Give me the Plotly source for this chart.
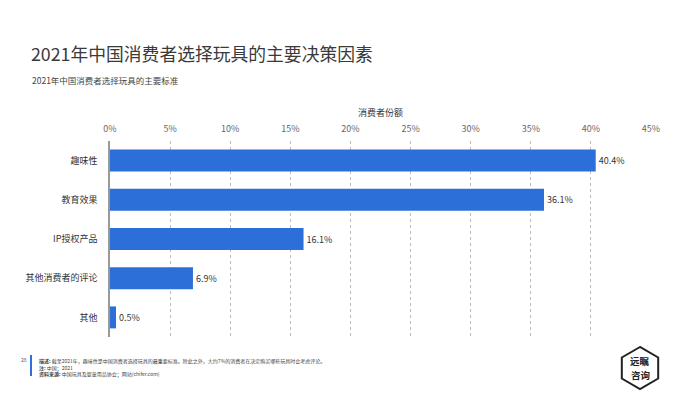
import plotly.graph_objects as go
import math

categories = ["趣味性", "教育效果", "IP授权产品", "其他消费者的评论", "其他"]
values = [40.4, 36.1, 16.1, 6.9, 0.5]
labels = ["40.4%", "36.1%", "16.1%", "6.9%", "0.5%"]
tick_vals = [0, 5, 10, 15, 20, 25, 30, 35, 40, 45]
tick_text = ["0%", "5%", "10%", "15%", "20%", "25%", "30%", "35%", "40%", "45%"]

FONT = "Noto Sans CJK SC, Noto Sans, sans-serif"

W, H = 700, 393
L, R, T, B = 110, 49, 141, 56
pw = W - L - R
ph = H - T - B
def px(xp):
    return (xp - L) / pw
def py(yp):
    return (H - B - yp) / ph

fig = go.Figure()
fig.add_trace(go.Bar(
    x=values, y=categories, orientation="h",
    marker=dict(color="#2C6FD9", line=dict(width=0)),
    text=labels, textposition="outside", cliponaxis=False,
    textfont=dict(size=9, color="#333333", family=FONT),
    width=0.56,
))

fig.update_layout(
    width=W, height=H,
    margin=dict(l=L, r=R, t=T, b=B),
    paper_bgcolor="white", plot_bgcolor="white",
    showlegend=False,
    font=dict(family=FONT, color="#333333"),
    xaxis=dict(
        side="top", range=[0, 45], tickvals=tick_vals, ticktext=tick_text,
        tickfont=dict(size=9, color="#666666"),
        showgrid=True, gridcolor="#BBBBBB", griddash="dot", gridwidth=1,
        zeroline=False, showline=False, ticks="", ticklabelstandoff=6,
        title=dict(text="消费者份额", font=dict(size=9, color="#333333"), standoff=4),
    ),
    yaxis=dict(
        autorange="reversed", tickfont=dict(size=9, color="#333333"),
        showline=True, linecolor="#999999", linewidth=1.5,
        ticks="", ticklabelstandoff=9, showgrid=False,
    ),
)

fig.add_annotation(text="2021年中国消费者选择玩具的主要决策因素", xref="paper", yref="paper",
                   x=px(29), y=py(53), xanchor="left", yanchor="middle", showarrow=False,
                   font=dict(size=17.8, color="#3A3A3A", family=FONT))
fig.add_annotation(text="2021年中国消费者选择玩具的主要标准", xref="paper", yref="paper",
                   x=px(30), y=py(80), xanchor="left", yanchor="middle", showarrow=False,
                   font=dict(size=8.5, color="#444444", family=FONT))

# footnote
fig.add_shape(type="rect", xref="paper", yref="paper", x0=px(30), x1=px(32), y0=py(376), y1=py(355),
              fillcolor="#2C6FD9", line=dict(width=0))
fig.add_annotation(text="28", xref="paper", yref="paper", x=px(24), y=py(359), showarrow=False,
                   xanchor="center", yanchor="middle", font=dict(size=5, color="#555555", family=FONT))
foot = ("<b>描述:</b> 截至2021年，趣味性是中国消费者选择玩具的最重要标准。除此之外，大约7%的消费者在决定购买哪些玩具时会考虑评论。<br>"
        "<b>注:</b> 中国；2021<br>"
        "<b>资料来源:</b> 中国玩具及婴童用品协会；网站(chifer.com)")
fig.add_annotation(text=foot, xref="paper", yref="paper", x=px(37), y=py(355), showarrow=False,
                   xanchor="left", yanchor="top", align="left",
                   font=dict(size=5, color="#444444", family=FONT))

# logo hexagon
cx, cy, r = 640, 368, 21
pts = []
for k in range(6):
    a = math.radians(90 + 60 * k)
    pts.append((cx + r * math.cos(a), cy - r * math.sin(a)))
path = "M " + " L ".join(f"{px(x)} {py(y)}" for x, y in pts) + " Z"
fig.add_shape(type="path", xref="paper", yref="paper", path=path,
              line=dict(color="#222222", width=2), fillcolor="white")
for txt, yy in (("<b>远瞩</b>", 361), ("<b>咨询</b>", 375)):
    fig.add_annotation(text=txt, xref="paper", yref="paper", x=px(cx), y=py(yy), showarrow=False,
                       xanchor="center", yanchor="middle", align="center",
                       font=dict(size=9.5, color="#222222", family=FONT))

fig.write_html("out.html", config={"displayModeBar": False},
               post_script="document.body.style.margin='0';document.body.style.overflow='hidden';")
